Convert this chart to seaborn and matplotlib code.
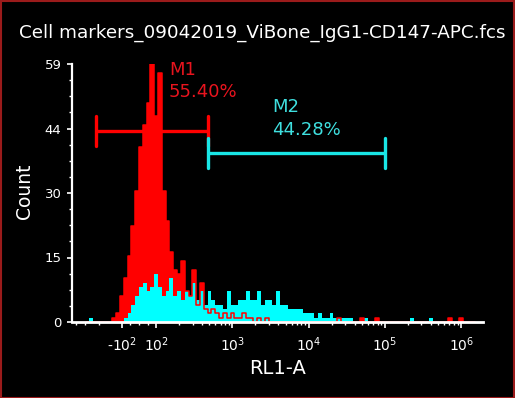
import numpy as np
import pandas as pd
import matplotlib
matplotlib.use("Agg")
import matplotlib.pyplot as plt
from matplotlib.scale import SymmetricalLogTransform
from matplotlib.patches import Rectangle
import seaborn as sns

# ---------------- data ----------------
title = "Cell markers_09042019_ViBone_IgG1-CD147-APC.fcs"
x_label = "RL1-A"
y_label = "Count"

# histogram counts per channel (102 channels on the logicle-like RL1-A axis)
isotype_counts = [0, 0, 0, 0, 0, 0, 0, 1, 2, 6,
                  10, 15, 22, 30, 40, 45, 50, 59, 47, 57,
                  30, 23, 16, 12, 11, 14, 7, 6, 12, 4,
                  9, 3, 2, 3, 2, 1, 2, 1, 2, 1,
                  1, 2, 1, 1, 0, 1, 0, 1, 0, 0,
                  0, 0, 0, 0, 0, 0, 0, 0, 0, 0,
                  0, 0, 0, 0, 0, 0, 1, 0, 0, 0,
                  0, 0, 1, 0, 0, 0, 1, 0, 0, 0,
                  0, 0, 0, 0, 0, 0, 0, 0, 0, 0,
                  0, 0, 0, 0, 0, 1, 0, 0, 1, 0,
                  0, 0]
cd147_counts = [0, 1, 0, 0, 0, 0, 0, 0, 0, 0,
                1, 2, 4, 6, 8, 9, 7, 8, 11, 8,
                6, 7, 10, 6, 7, 5, 7, 6, 9, 5,
                7, 4, 7, 5, 4, 4, 3, 7, 4, 4,
                5, 5, 7, 5, 5, 7, 4, 5, 5, 4,
                7, 4, 4, 3, 3, 3, 3, 2, 2, 2,
                1, 2, 1, 1, 2, 1, 1, 1, 1, 1,
                0, 0, 0, 1, 0, 0, 0, 0, 0, 0,
                0, 0, 0, 0, 0, 1, 0, 0, 0, 0,
                1, 0, 0, 0, 0, 0, 0, 0, 0, 0,
                0, 0]

x_major_ticks = [-1e2, 1e2, 1e3, 1e4, 1e5, 1e6]
x_major_labels = ["-$10^{2}$", "$10^{2}$", "$10^{3}$", "$10^{4}$", "$10^{5}$", "$10^{6}$"]
y_max = 59
y_tick_labels = ["0", "15", "30", "44", "59"]

marker_names = ["M1", "M2"]
marker_pcts = ["55.40%", "44.28%"]
marker_lo = [-220, 480]
marker_hi = [480, 1.0e5]
marker_level = [43.7, 38.6]

# ---------------- scale / channel grid ----------------
LINTHRESH = 100
LINSCALE = 0.2025
tr = SymmetricalLogTransform(10, LINTHRESH, LINSCALE)
inv = tr.inverted()
t_edges = np.linspace(-0.70, 4.40, len(isotype_counts) + 1)
centers = inv.transform(((t_edges[:-1] + t_edges[1:]) / 2) * LINTHRESH)
# seaborn bins on the axis' transformed (symlog) coordinate
edges_scaled = [float(v) for v in t_edges * LINTHRESH]

df = pd.DataFrame({"x": np.concatenate([centers, centers]),
                   "count": isotype_counts + cd147_counts,
                   "sample": ["IgG1"] * len(centers) + ["CD147"] * len(centers)})
iso = df[df["sample"] == "IgG1"]
cd = df[df["sample"] == "CD147"]

# ---------------- figure ----------------
sns.set_theme(style="ticks")
plt.rcParams["font.family"] = ["DejaVu Sans"]
fig = plt.figure(figsize=(5.15, 3.98), dpi=100, facecolor="black")
ax = fig.add_axes([72 / 515, 76 / 398, 411 / 515, 258 / 398])
ax.set_facecolor("black")
ax.set_xscale("symlog", linthresh=LINTHRESH, linscale=LINSCALE)

cyan = "#00ffff"
red = "#ff0000"
sns.histplot(data=iso, x="x", weights="count", bins=edges_scaled,
             element="step", fill=True, color=red, alpha=1, linewidth=0, ax=ax)
sns.histplot(data=cd, x="x", weights="count", bins=edges_scaled,
             element="step", fill=True, color=cyan, alpha=1, linewidth=0, ax=ax)
sns.histplot(data=iso, x="x", weights="count", bins=edges_scaled,
             element="step", fill=False, color=red, linewidth=1.1, ax=ax)

ax.set_xlim(-450, 1.93e6)
ax.set_ylim(0, y_max)

# markers
mcolors = [red, "#19e6e6"]
tcolors = ["#e8141e", "#3fe0e0"]
for i in range(2):
    c = mcolors[i]
    ax.plot([marker_lo[i], marker_hi[i]], [marker_level[i]] * 2, color=c, lw=2.4,
            solid_capstyle="butt", zorder=5)
    for xe in (marker_lo[i], marker_hi[i]):
        ax.plot([xe, xe], [marker_level[i] - 3.4, marker_level[i] + 3.4], color=c, lw=2.4,
                solid_capstyle="round", zorder=5)

fig.text(169 / 515, 1 - 75 / 398, marker_names[0], color=tcolors[0], fontsize=13, va="baseline")
fig.text(169 / 515, 1 - 97 / 398, marker_pcts[0], color=tcolors[0], fontsize=13, va="baseline")
fig.text(272 / 515, 1 - 112 / 398, marker_names[1], color=tcolors[1], fontsize=13, va="baseline")
fig.text(272 / 515, 1 - 135 / 398, marker_pcts[1], color=tcolors[1], fontsize=13, va="baseline")

# axes styling
for s in ["top", "right"]:
    ax.spines[s].set_visible(False)
ax.spines["bottom"].set_color("white")
ax.spines["left"].set_color("white")
ax.spines["bottom"].set_linewidth(2.0)
ax.spines["left"].set_linewidth(1.6)

ax.set_xticks(x_major_ticks)
ax.set_xticklabels(x_major_labels)
minor = [-400, -300, -200, -50, 0, 50]
for d in range(2, 6):
    minor += [k * 10 ** d for k in range(2, 10)]
ax.set_xticks(minor, minor=True)
ax.set_yticks(np.linspace(0, y_max, 5))
ax.set_yticklabels(y_tick_labels)
ax.set_yticks(np.linspace(0, y_max, 17), minor=True)

ax.tick_params(axis="x", which="major", colors="white", length=4, width=1.2,
               labelsize=10, pad=6, direction="out")
ax.tick_params(axis="x", which="minor", colors="white", length=2.5, width=1, direction="out")
ax.tick_params(axis="y", which="major", colors="white", length=3.5, width=1.2,
               labelsize=9.5, pad=4, direction="out")
ax.tick_params(axis="y", which="minor", colors="white", length=2, width=1, direction="out")

ax.set_xlabel(x_label, color="white", fontsize=14)
ax.set_ylabel(y_label, color="white", fontsize=13.5)
ax.xaxis.set_label_coords(0.501, -0.143)
ax.yaxis.set_label_coords(-0.0925, 0.508)

fig.text(0.509, 1 - 38 / 398, title, color="white", fontsize=13.2, ha="center", va="baseline")

fig.patches.append(Rectangle((0.001, 0.001), 0.997, 0.997, transform=fig.transFigure,
                             fill=False, edgecolor="#9b1b1b", lw=1.5))

fig.savefig("out.png", dpi=100, facecolor="black")
